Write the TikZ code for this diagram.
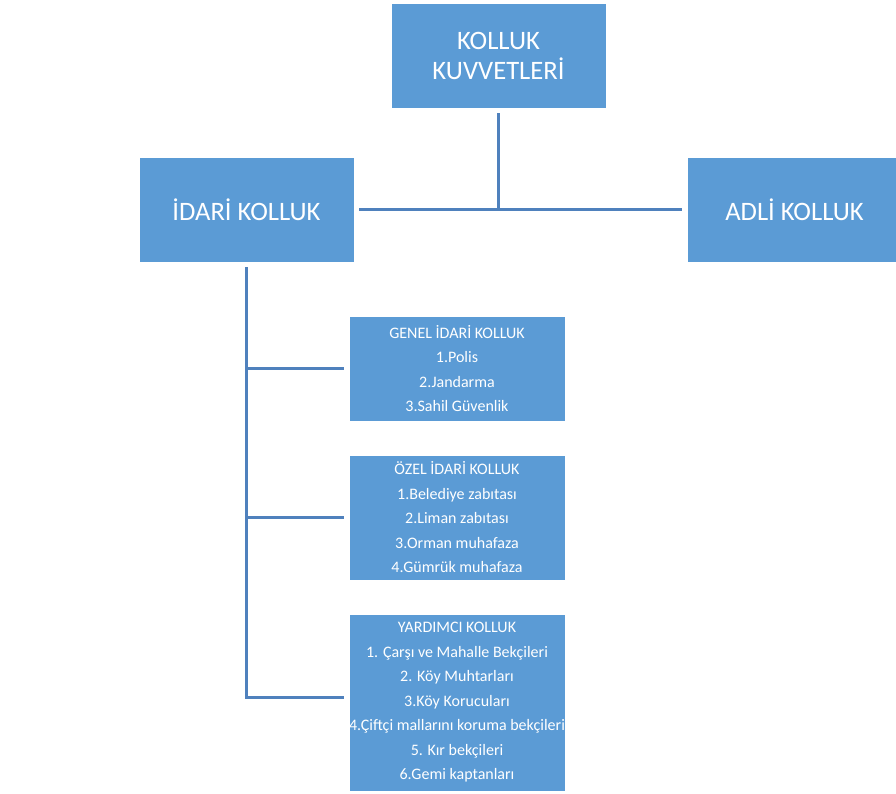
\documentclass[tikz,border=0pt]{standalone}
\usepackage{fontspec}
\setmainfont{Carlito}
\usetikzlibrary{positioning}
\definecolor{boxblue}{HTML}{5B9BD5}
\definecolor{lineblue}{HTML}{4F81BD}

\begin{document}
\begin{tikzpicture}[x=1pt, y=-1pt, semithick]
  \tikzstyle{bigbox} = [rectangle, fill=boxblue, draw=white, thin, text=white,
    minimum width=215pt, minimum height=105pt, align=center,
    font=\fontsize{26.6}{30}\selectfont]
  \tikzstyle{smallbox} = [rectangle, fill=boxblue, draw=white, thin, text=white,
    minimum width=216pt, inner sep=0pt, align=center,
    font=\fontsize{16}{24.5}\selectfont]
  \tikzstyle{line} = [draw=lineblue, line width=2.2pt]

  \useasboundingbox (0,0) rectangle (896,793);
  \clip (0,0) rectangle (896,793);

  % Place nodes
  \node [bigbox] (kolluk) at (498.5,55.5) {KOLLUK\\KUVVETLERİ};
  \node [bigbox, below of=kolluk, node distance=154pt, xshift=-252pt] (idari) {İDARİ KOLLUK};
  \node [bigbox, right of=idari, node distance=548pt] (adli) {ADLİ KOLLUK};
  \node [smallbox, minimum height=105pt, below of=idari, node distance=159pt,
    xshift=210.5pt] (genel) {GENEL İDARİ KOLLUK\\1.Polis\\2.Jandarma\\3.Sahil Güvenlik};
  \node [smallbox, minimum height=125pt, below of=genel, node distance=149pt] (ozel)
        {ÖZEL İDARİ KOLLUK\\1.Belediye zabıtası\\2.Liman zabıtası\\3.Orman muhafaza\\4.Gümrük muhafaza};
  \node [smallbox, minimum height=177pt, below of=ozel, node distance=185pt] (yardimci)
        {YARDIMCI KOLLUK\\1. Çarşı ve Mahalle Bekçileri\\2. Köy Muhtarları\\3.Köy Korucuları\\4.Çiftçi mallarını koruma bekçileri\\5. Kır bekçileri\\6.Gemi kaptanları};

  \coordinate (join) at (kolluk |- idari);
  \coordinate (trunkend) at ([yshift=5pt]idari.south |- yardimci.west);

  % Draw edges
  \path [line] ([yshift=-5pt]kolluk.south) -- (join);
  \path [line] ([xshift=5pt]idari.east) -- ([xshift=-5pt]adli.west);

  \path [line] ([yshift=-5pt]idari.south) -- (trunkend);
  \path [line] (idari.south |- genel.west) -- ([xshift=-5pt]genel.west);
  \path [line] (idari.south |- ozel.west) -- ([xshift=-5pt]ozel.west);
  \path [line] ([xshift=-1.1pt]trunkend) -- ([xshift=-5pt]yardimci.west |- trunkend);

\end{tikzpicture}
\end{document}
